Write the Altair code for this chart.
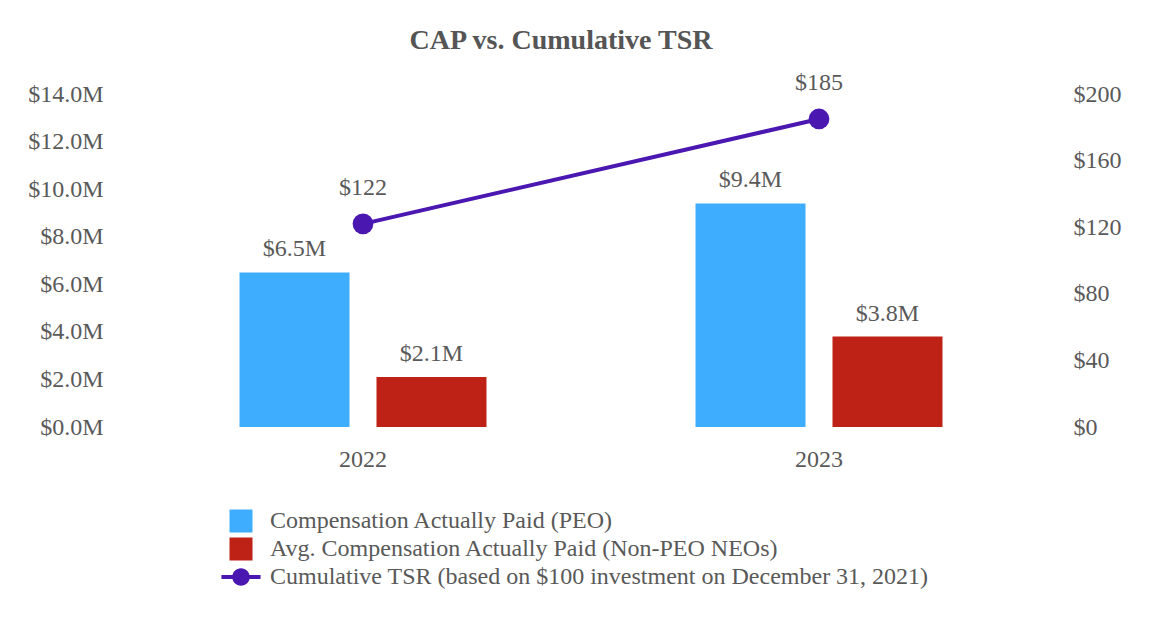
import altair as alt
import pandas as pd

years = ["2022", "2023"]
peo_cap = [6.5, 9.4]
non_peo_cap = [2.1, 3.8]
tsr = [122, 185]

S1 = "Compensation Actually Paid (PEO)"
S2 = "Avg. Compensation Actually Paid (Non-PEO NEOs)"
S3 = "Cumulative TSR (based on $100 investment on December 31, 2021)"
series_names = [S1, S2, S3]
colors = ["#3FADFD", "#BE2116", "#4B17B1"]

bars = pd.DataFrame({
    "year": years * 2,
    "series": [S1] * 2 + [S2] * 2,
    "value": peo_cap + non_peo_cap,
})
bars["label"] = ["$" + f"{v:.1f}M" for v in bars["value"]]
line = pd.DataFrame({"year": years, "tsr": tsr, "series": [S3] * 2})
line["label"] = ["$" + str(v) for v in tsr]

FONT = "Liberation Serif"
GRAY = "#595959"
FS = 24

x = alt.X("year:N", title=None,
          scale=alt.Scale(paddingInner=0, paddingOuter=0),
          axis=alt.Axis(labelAngle=0, domain=False, ticks=False, labelPadding=20,
                        labelFont=FONT, labelFontSize=FS, labelColor=GRAY))
xoff = alt.XOffset("series:N", scale=alt.Scale(domain=[S1, S2], paddingInner=0.197, paddingOuter=0.763))
yL = alt.Y("value:Q", title=None,
           scale=alt.Scale(domain=[0, 14]),
           axis=alt.Axis(values=[0, 2, 4, 6, 8, 10, 12, 14], grid=False, domain=False, ticks=False,
                         labelPadding=32, labelExpr="'$' + format(datum.value, '.1f') + 'M'",
                         labelFont=FONT, labelFontSize=FS, labelColor=GRAY))
yR = alt.Y("tsr:Q", title=None, scale=alt.Scale(domain=[0, 200]),
           axis=alt.Axis(orient="right", values=[0, 40, 80, 120, 160, 200], grid=False, domain=False,
                         ticks=False, labelPadding=26, labelExpr="'$' + datum.value",
                         labelFont=FONT, labelFontSize=FS, labelColor=GRAY))

sym_path = ("M-1.7,-0.17L1.7,-0.17L1.7,0.17L-1.7,0.17Z"
            "M-0.76,0A0.76,0.76,0,0,1,0.76,0A0.76,0.76,0,0,1,-0.76,0Z")

bar_layer = alt.Chart(bars).mark_bar().encode(
    x=x, xOffset=xoff, y=yL,
    color=alt.Color("series:N",
                    scale=alt.Scale(domain=series_names, range=colors),
                    legend=alt.Legend(title=None, orient="none", legendX=94, legendY=415,
                                      direction="vertical", padding=0,
                                      symbolSize=529, symbolStrokeWidth=0,
                                      symbolType={"expr": "datum.value == '" + S3 + "' ? '" + sym_path + "' : 'square'"},
                                      labelFont=FONT, labelFontSize=FS, labelColor=GRAY,
                                      labelOffset=17, rowPadding=4, labelLimit=900)),
)
bar_text = alt.Chart(bars).mark_text(dy=-11, baseline="bottom", font=FONT, fontSize=FS, color=GRAY).encode(
    x=x, xOffset=xoff, y=yL, text="label:N",
)
left = alt.layer(bar_layer, bar_text)

line_layer = alt.Chart(line).mark_line(color=colors[2], strokeWidth=4).encode(x=x, y=yR)
pt_layer = alt.Chart(line).mark_point(filled=True, size=430, opacity=1, color=colors[2]).encode(x=x, y=yR)
pt_text = alt.Chart(line).mark_text(dy=-24, baseline="bottom", font=FONT, fontSize=FS, color=GRAY).encode(
    x=x, y=yR, text="label:N")
right = alt.layer(line_layer, pt_layer, pt_text)

chart = alt.layer(left, right).resolve_scale(y="independent").properties(
    width=912, height=333,
    padding={"left": 19, "top": 18, "right": 5, "bottom": 5},
    title=alt.Title("CAP vs. Cumulative TSR", font=FONT, fontSize=28, fontWeight="bold",
                    color="#555555", offset=16, dx=-30),
).configure_view(stroke=None)

chart.save("out.html", embed_options={"renderer": "svg", "actions": False})
